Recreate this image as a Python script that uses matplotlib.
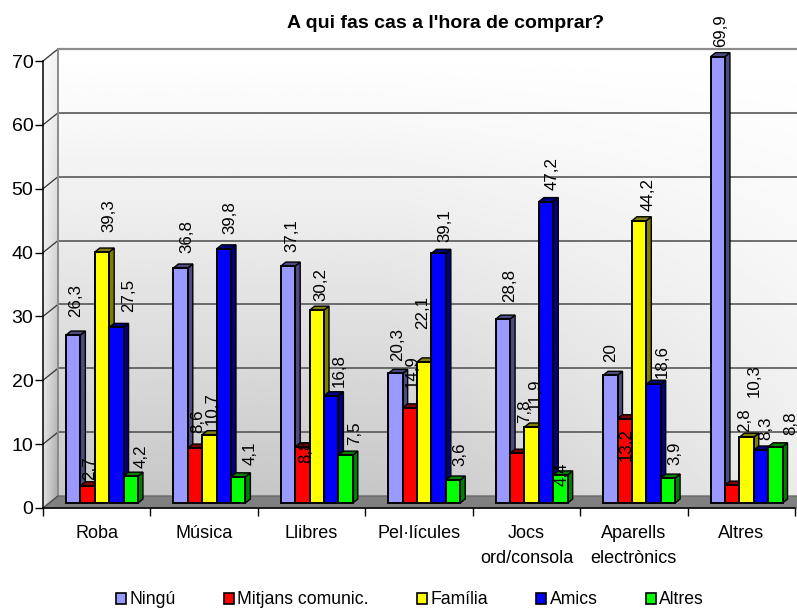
import numpy as np
import matplotlib
matplotlib.use("Agg")
import matplotlib.pyplot as plt
from matplotlib.patches import Polygon, Patch

plt.rcParams['font.family'] = ['Liberation Sans', 'DejaVu Sans']

# ---- data -------------------------------------------------------------
categories = ["Roba", "Música", "Llibres", "Pel·lícules",
              "Jocs\nord/consola", "Aparells\nelectrònics", "Altres"]
series_names = ["Ningú", "Mitjans comunic.", "Família", "Amics", "Altres"]
ningu   = [26.3, 36.8, 37.1, 20.3, 28.8, 20.0, 69.9]
mitjans = [2.7, 8.6, 8.8, 14.9, 7.8, 13.2, 2.8]
familia = [39.3, 10.7, 30.2, 22.1, 11.9, 44.2, 10.3]
amics   = [27.5, 39.8, 16.8, 39.1, 47.2, 18.6, 8.3]
altres  = [4.2, 4.1, 7.5, 3.6, 4.4, 3.9, 8.8]
y_ticks = [0, 10, 20, 30, 40, 50, 60, 70]

series = [ningu, mitjans, familia, amics, altres]
front_colors = ["#9999ff", "#ff0000", "#ffff00", "#0000ff", "#00ff00"]
side_colors = ["#4c4c80", "#800000", "#808000", "#000080", "#008000"]

# label nudges in pixels (x, gap above the bar top)
label_dx = [[2, 6, 4, 2, 7, 0, 3],
            [2, 3, 3, 2, 7, 2, 12],
            [7, 3, 4, -2, 4, 9, 8],
            [12, 6, 8, 6, 6, 9, 5],
            [10, 12, 9, 7, 2, 7, 15]]
label_gap = [[18, 15, 14, 12, 17, 13, 10],
             [6, 15, -16, 20, 30, -42, 53],
             [20, 10, 9, 33, 17, 10, 40],
             [15, 15, 9, 11, 12, 6, 10],
             [8, 12, 10, 14, -11, 13, 12]]

# ---- figure / axes geometry ------------------------------------------
W, H = 797, 609
fig = plt.figure(figsize=(W / 100, H / 100), dpi=100)
ax_left, ax_right, ax_top, ax_bottom = 43, 795, 61, 508
ax = fig.add_axes([ax_left / W, (H - ax_bottom) / H,
                   (ax_right - ax_left) / W, (ax_bottom - ax_top) / H])
ncat = len(categories)
ymax = 70
ppx = (ax_right - ax_left) / ncat     # pixels per x unit
ppy = (ax_bottom - ax_top) / ymax     # pixels per y unit

bx, by = 15 / ppx, 12 / ppy           # back wall depth
ox, oy = 6 / ppx, 5 / ppy             # bar row depth
dx, dy = 5 / ppx, 4 / ppy             # bar thickness
bar_w = 0.134
group_start = 0.158

ax.patch.set_visible(False)

# back wall with soft shading
ny, nx = 300, 400
yy = np.linspace(0, 1, ny)[:, None]          # 0 top -> 1 bottom
xx = np.linspace(0, 1, nx)[None, :]
hx = np.clip(1.0 - (xx - 0.42) / 0.58 * 0.72, 0.28, 1.0)
wall = 1.0 - 0.22 * (yy ** 1.15) * hx
wall_right = ncat + bx + 0.3
ax.imshow(wall, extent=(bx, wall_right, by, ymax + by), cmap="gray",
          vmin=0, vmax=1, aspect="auto", origin="upper", zorder=0,
          clip_on=False, interpolation="bilinear")

# left side wall
side_poly = Polygon([(0, 0), (bx, by), (bx, ymax + by), (0, ymax)],
                    closed=True, facecolor="none", edgecolor="none",
                    clip_on=False)
ax.add_patch(side_poly)
sx = np.linspace(0, 1, 50)[None, :]
sy = np.linspace(0, 1, 300)[:, None]
side = 1.0 - (0.05 + 0.30 * sy ** 1.1) * (0.35 + 0.65 * sx)
im_side = ax.imshow(side, extent=(0, bx, 0, ymax + by), cmap="gray",
                    vmin=0, vmax=1, aspect="auto", origin="upper",
                    zorder=0, interpolation="bilinear")
im_side.set_clip_path(side_poly)
im_side.set_clip_box(fig.bbox)

# floor
floor = Polygon([(0, 0), (ncat + 0.2, 0), (ncat + 0.2 + bx, by), (bx, by)],
                closed=True, facecolor="#808080", edgecolor="#6a6a6a",
                lw=1, zorder=1, clip_on=False)
ax.add_patch(floor)

# gridlines on the back wall and depth lines to the value axis
for k in y_ticks:
    if k > 0:
        col = "#8c8c8c" if k == ymax else "#4a4a4a"
        ax.plot([bx, wall_right], [k + by, k + by], color=col,
                lw=1.6 if k == ymax else 1.1, zorder=0.5,
                clip_on=False, solid_capstyle="butt")
        ax.plot([0, bx], [k, k + by], color="#333333", lw=0.9,
                zorder=0.6, clip_on=False)
ax.plot([bx, bx], [by, ymax + by], color="#8c8c8c", lw=1.4,
        zorder=0.6, clip_on=False)
ax.plot([0, bx], [0, by], color="#555555", lw=0.9, zorder=1.2,
        clip_on=False)

# ---- bars -------------------------------------------------------------
x_base = np.arange(ncat)
for s, vals in enumerate(series):
    vals = np.asarray(vals, dtype=float)
    lefts = x_base + group_start + s * bar_w + ox
    z = 3 + s
    for x0, v in zip(lefts, vals):
        x1 = x0 + bar_w
        top = v + oy
        ax.add_patch(Polygon([(x1, oy), (x1 + dx, oy + dy),
                              (x1 + dx, top + dy), (x1, top)],
                             closed=True, facecolor=side_colors[s],
                             edgecolor="black", lw=1.0, zorder=z,
                             clip_on=False))
        ax.add_patch(Polygon([(x0, top), (x0 + dx, top + dy),
                              (x1 + dx, top + dy), (x1, top)],
                             closed=True, facecolor=side_colors[s],
                             edgecolor="black", lw=1.0, zorder=z,
                             clip_on=False))
    ax.bar(lefts, vals, width=bar_w, bottom=oy, align="edge",
           color=front_colors[s], edgecolor="black", linewidth=1.4,
           zorder=z + 0.5, clip_on=False)
    for i, v in enumerate(vals):
        txt = f"{v:g}".replace(".", ",")
        ax.annotate(txt, xy=(lefts[i] + bar_w / 2, v + oy),
                    xytext=(label_dx[s][i], label_gap[s][i]),
                    textcoords="offset pixels", rotation=90,
                    ha="center", va="bottom", fontsize=12.2,
                    color="black", zorder=20, annotation_clip=False)

# ---- axes -------------------------------------------------------------
ax.set_xlim(0, ncat)
ax.set_ylim(0, ymax)
for side_name in ("top", "right"):
    ax.spines[side_name].set_visible(False)
for side_name in ("left", "bottom"):
    ax.spines[side_name].set_color("black")
    ax.spines[side_name].set_linewidth(1.1)
    ax.spines[side_name].set_zorder(2)

ax.set_yticks(y_ticks)
ax.set_yticklabels([str(t) for t in y_ticks])
ax.tick_params(axis="y", direction="out", length=6, width=1, pad=1,
               labelsize=14, colors="black")

ax.set_xticks(np.arange(ncat + 1))
ax.set_xticklabels([])
ax.set_xticks(x_base + 0.5, minor=True)
ax.set_xticklabels(categories, minor=True, fontsize=13,
                   linespacing=1.6)
ax.tick_params(axis="x", which="major", direction="out", length=5.5,
               width=1)
ax.tick_params(axis="x", which="minor", length=0, pad=12.5)

# ---- title and legend -------------------------------------------------
fig.text(445.5 / W, 1 - 28 / H, "A qui fas cas a l'hora de comprar?",
         ha="center", va="baseline", fontsize=14, fontweight="bold")

handles = [Patch(facecolor=c, edgecolor="black", linewidth=1.2)
           for c in front_colors]
fig.legend(handles, series_names, loc="center",
           bbox_to_anchor=(410 / W, 1 - 600 / H), ncol=5, frameon=False,
           fontsize=12.7, handlelength=0.55, handleheight=0.55,
           handletextpad=0.2, columnspacing=2.75, borderpad=0,
           borderaxespad=0)

fig.savefig("out.png", dpi=100)
